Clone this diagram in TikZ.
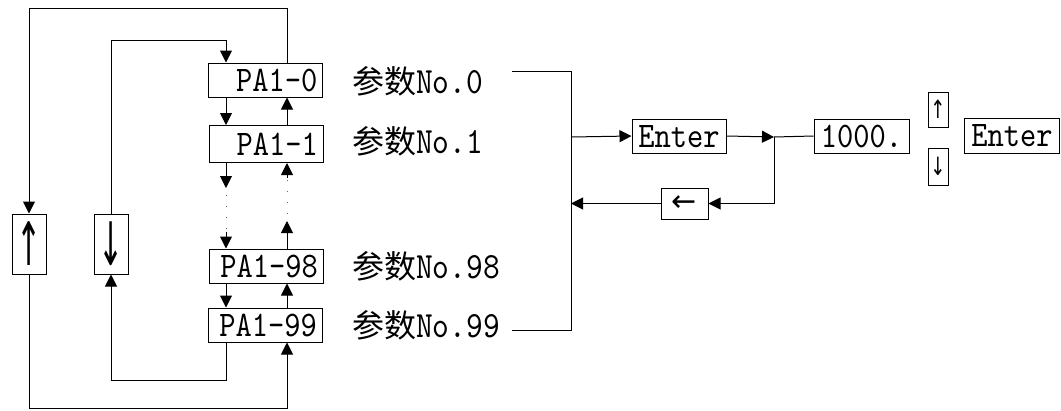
\documentclass[tikz,border=0pt]{standalone}
\usepackage{fontspec}
\usepackage{graphicx}
\usetikzlibrary{arrows.meta}
\newfontfamily\latn[FakeStretch=0.86]{lmmono10-regular.otf}
\newfontfamily\cjk{Noto Sans CJK SC}
\newfontfamily\arrf{DejaVu Sans}
\newcommand{\glyphc}[3]{\makebox[0pt]{\raisebox{-0.5\height}{\scalebox{1}[#3]{\arrf\fontsize{#1}{#1}\selectfont #2}}}}
\tikzset{
  ln/.style={draw=black, line width=1pt},
  arr/.style={ln, -{Triangle[length=12pt,width=12pt]}},
  dots/.style={draw=black!60, line width=1pt, dash pattern=on 1pt off 10pt},
  box/.style={draw=black, line width=1pt, inner sep=0pt, font=\latn\fontsize{36}{40}\selectfont, text height=22pt, text depth=0pt},
  btn/.style={draw=black, line width=1pt, inner sep=0pt, text height=0pt, text depth=0pt},
  lab/.style={anchor=base west, inner sep=0pt}
}
\begin{document}
\begin{tikzpicture}[x=1pt,y=-1pt]
\useasboundingbox (0,0) rectangle (1061,410);
% parameter boxes
\node[box, minimum width=114pt, minimum height=34pt, text width=104pt, align=right] (pa0) at (265.5,80) {PA1-0};
\node[box, minimum width=114pt, minimum height=37pt, text width=104pt, align=right] (pa1) at (266,144) {PA1-1};
\node[box, minimum width=114pt, minimum height=34pt, text width=104pt, align=right] (pa98) at (266,266) {PA1-98};
\node[box, minimum width=114pt, minimum height=34pt, text width=104pt, align=right] (pa99) at (265,325) {PA1-99};
% labels
\node[lab] (l0) at (352,93) {\cjk\fontsize{32}{36}\selectfont 参数\latn\fontsize{37}{40}\selectfont No.0};
\node[lab] (l1) at (352,153) {\cjk\fontsize{32}{36}\selectfont 参数\latn\fontsize{37}{40}\selectfont No.1};
\node[lab] (l98) at (352,278) {\cjk\fontsize{32}{36}\selectfont 参数\latn\fontsize{37}{40}\selectfont No.98};
\node[lab] (l99) at (352,337) {\cjk\fontsize{32}{36}\selectfont 参数\latn\fontsize{37}{40}\selectfont No.99};
% big up/down buttons
\node[btn, minimum width=34pt, minimum height=60pt] (upb) at (29,244) {\glyphc{30}{↑}{2}};
\node[btn, minimum width=34pt, minimum height=60pt] (downb) at (111,244) {\glyphc{30}{↓}{2}};
% right side
\node[box, minimum width=94pt, minimum height=34pt] (enter1) at (679,136) {Enter};
\node[btn, minimum width=47pt, minimum height=31pt] (back) at (684.5,203.5) {\glyphc{30}{←}{1}};
\node[box, minimum width=95pt, minimum height=34pt] (val) at (861.5,136) {1000.};
\node[btn, minimum width=20pt, minimum height=35pt] (su) at (938,109.5) {\glyphc{18}{↑}{1.4}};
\node[btn, minimum width=20pt, minimum height=37pt] (sd) at (938,166.5) {\glyphc{18}{↓}{1.4}};
\node[box, minimum width=95pt, minimum height=35pt] (enter2) at (1012,135.5) {Enter};
% helper coordinates
\coordinate (xL) at (226,0);
\coordinate (xR) at (287,0);
\coordinate (ot) at (287,8);
\coordinate (it) at (111,40);
\coordinate (ib) at (226,380);
\coordinate (ob) at (29,408);
\coordinate (la) at (226,188);
\coordinate (lb) at (226,195);
\coordinate (lc) at (226,232);
\coordinate (ra) at (287,221);
\coordinate (rb) at (287,214);
\coordinate (rc) at (287,178);
\coordinate (b0) at (512,71);
\coordinate (b0c) at (571,71);
\coordinate (b1c) at (571,330);
\coordinate (b1) at (512,330);
\coordinate (j1) at (571,137);
\coordinate (j2) at (774,137);
% outer loop
\draw[arr] (pa0.north -| xR) -- (ot) -| (upb.north);
\draw[arr] (upb.south) -- (ob) -| (pa99.south -| xR);
% inner loop
\draw[arr] (downb.north) -- (it) -| (pa0.north -| xL);
\draw[arr] (pa99.south -| xL) -- (ib) -| (downb.south);
% columns
\draw[arr] (pa0.south -| xL) -- (pa1.north -| xL);
\draw[arr] (pa1.north -| xR) -- (pa0.south -| xR);
\draw[arr] (pa1.south -| xL) -- (la);
\draw[dots] (lb) -- (lc);
\draw[arr] (lc) -- (pa98.north -| xL);
\draw[arr] (pa98.north -| xR) -- (ra);
\draw[dots] (rb) -- (rc);
\draw[arr] (rc) -- (pa1.south -| xR);
\draw[arr] (pa98.south -| xL) -- (pa99.north -| xL);
\draw[arr] (pa99.north -| xR) -- (pa98.south -| xR);
% bracket and enter path
\draw[ln] (b0) -- (b0c) -- (b1c) -- (b1);
\draw[arr] (j1) -- (enter1.west);
\draw[arr] (enter1.east) -- (j2);
\draw[ln] (j2) -- (val.west);
\draw[arr] (j2) |- (back.east);
\draw[arr] (back.west) -- (back.west -| j1);
\end{tikzpicture}
\end{document}
